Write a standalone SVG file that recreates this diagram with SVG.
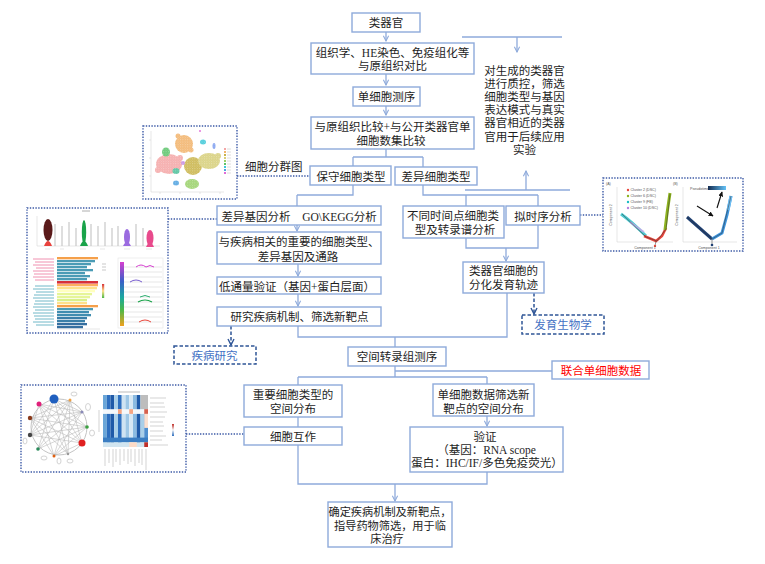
<svg xmlns="http://www.w3.org/2000/svg" width="765" height="564" viewBox="0 0 765 564">
<defs>
<marker id="ar" viewBox="0 0 8 8" refX="7" refY="4" markerWidth="7" markerHeight="7" markerUnits="userSpaceOnUse" orient="auto"><path d="M1,1 L7,4 L1,7" fill="none" stroke="#8eaadb" stroke-width="1.2"/></marker>
<marker id="ard" viewBox="0 0 8 8" refX="7" refY="4" markerWidth="8" markerHeight="8" markerUnits="userSpaceOnUse" orient="auto"><path d="M1,1 L7,4 L1,7" fill="none" stroke="#2f5597" stroke-width="1.4"/></marker>
<marker id="ark" viewBox="0 0 8 8" refX="7" refY="4" markerWidth="5" markerHeight="5" markerUnits="userSpaceOnUse" orient="auto"><path d="M0,0 L8,4 L0,8 Z" fill="#111"/></marker>
<pattern id="speck" width="2.4" height="2.4" patternUnits="userSpaceOnUse"><circle cx="0.6" cy="0.6" r="0.45" fill="#fff" opacity="0.7"/><circle cx="1.8" cy="1.7" r="0.35" fill="#fff" opacity="0.5"/></pattern>
<linearGradient id="gRidge" x1="0" y1="0" x2="0" y2="1"><stop offset="0" stop-color="#d63fd0"/><stop offset="0.3" stop-color="#3a5fc8"/><stop offset="0.55" stop-color="#1aa8a0"/><stop offset="0.75" stop-color="#4cb848"/><stop offset="1" stop-color="#f0a020"/></linearGradient>
<linearGradient id="gLeg" x1="0" y1="0" x2="0" y2="1"><stop offset="0" stop-color="#d7303a"/><stop offset="0.5" stop-color="#fee08b"/><stop offset="1" stop-color="#4cb848"/></linearGradient>
<linearGradient id="gPs" x1="0" y1="0" x2="1" y2="0"><stop offset="0" stop-color="#132b50"/><stop offset="1" stop-color="#64c2f7"/></linearGradient>
<linearGradient id="gHm" x1="0" y1="0" x2="0" y2="1"><stop offset="0" stop-color="#c0302a"/><stop offset="0.5" stop-color="#f7f7f7"/><stop offset="1" stop-color="#2e6fbf"/></linearGradient>
</defs>
<style>
.box{fill:#fff;stroke:#8eaadb;stroke-width:1.4}
.t{font-family:'Liberation Serif','Noto Sans CJK SC',sans-serif;font-size:11.5px;fill:#1e1e1e;text-anchor:middle}
.c{fill:none;stroke:#8eaadb;stroke-width:1.3}
.ca{fill:none;stroke:#8eaadb;stroke-width:1.3;marker-end:url(#ar)}
.dash{fill:none;stroke:#2f5597;stroke-width:1.5;stroke-dasharray:3.5 2}
.dot{fill:none;stroke:#3c5aa6;stroke-width:1.4;stroke-dasharray:1.4 1.4}
.tiny{font-family:'Liberation Sans',sans-serif;font-size:3.6px;fill:#555}
.gl{stroke:#cfcfcf;stroke-width:0.5;fill:none}
</style>
<rect x="0" y="0" width="765" height="564" fill="#fff"/>

<g id="connectors">
<path class="ca" d="M386,32 V41"/>
<path class="ca" d="M386,74 V85"/>
<path class="ca" d="M386,106 V115"/>
<path class="c" d="M386,149 V157 M353,157 H423 M353,157 V166 M423,157 V167"/>
<path class="c" d="M353,185 V195 H297"/>
<path class="ca" d="M297,195 V231"/>
<path class="ca" d="M298,264 V276"/>
<path class="ca" d="M298,294 V306"/>
<path class="c" d="M298,326 V337 H507 V293 M395,337 V347"/>
<path class="c" d="M395,366 V377 M298,377 H487 M298,377 V385 M487,377 V384 M395,371 H552"/>
<path class="c" d="M298,417 V427"/>
<path class="ca" d="M487,416 V426"/>
<path class="c" d="M298,445 V484 H487 V472"/>
<path class="ca" d="M395,484 V501"/>
<path class="c" d="M423,185 V195 H538 M466,195 V206 M538,195 V206"/>
<path class="c" d="M466,238 V248 H538 V225"/>
<path class="ca" d="M506,248 V261"/>
<path class="c" d="M462,37 H562"/>
<path class="ca" d="M517,37 V52"/>
<path class="c" d="M465,190 H570"/>
<path class="ca" d="M526,190 V171"/>
<path class="dash" d="M231,326 V345" marker-end="url(#ard)"/>
<path class="dash" d="M534,293 V314" marker-end="url(#ard)"/>
<path class="dot" d="M237,176 H310"/>
<path class="dot" d="M168,219 H217"/>
<path class="dot" d="M580,215 H603"/>
<path class="dot" d="M186,434 H244"/>
</g>

<g id="n-organoid"><rect class="box" x="352" y="13" width="68" height="19"/><text class="t" x="386" y="27">类器官</text></g>
<g id="n-histology"><rect class="box" x="311" y="43" width="163" height="31"/><text class="t" x="392.5" y="57">组织学、HE染色、免疫组化等</text><text class="t" x="392.5" y="70">与原组织对比</text></g>
<g id="n-scseq"><rect class="box" x="353" y="87" width="67" height="19"/><text class="t" x="386.5" y="101">单细胞测序</text></g>
<g id="n-compare"><rect class="box" x="311" y="117" width="163" height="32"/><text class="t" x="392.5" y="131">与原组织比较+与公开类器官单</text><text class="t" x="391" y="144.5">细胞数集比较</text></g>
<g id="n-qc"><text class="t" x="524.5" y="74.5">对生成的类器官</text><text class="t" x="524.5" y="87.7">进行质控，筛选</text><text class="t" x="524.5" y="100.9">细胞类型与基因</text><text class="t" x="524.5" y="114.1">表达模式与真实</text><text class="t" x="524.5" y="127.3">器官相近的类器</text><text class="t" x="524.5" y="140.5">官用于后续应用</text><text class="t" x="524.5" y="153.7">实验</text></g>
<g id="n-conserved"><rect class="box" x="310" y="166" width="81" height="19"/><text class="t" x="351" y="181">保守细胞类型</text></g>
<g id="n-diffcell"><rect class="box" x="395" y="167" width="82" height="18"/><text class="t" x="436" y="181">差异细胞类型</text></g>
<g id="n-cluster-label"><text class="t" x="245" y="171" style="text-anchor:start">细胞分群图</text></g>
<g id="n-degs"><rect class="box" x="217" y="206" width="164" height="19"/><text class="t" x="256" y="221">差异基因分析</text><text class="t" x="339.5" y="221">GO\KEGG分析</text></g>
<g id="n-disease-rel"><rect class="box" x="217" y="232" width="164" height="32"/><text class="t" x="299" y="246">与疾病相关的重要的细胞类型、</text><text class="t" x="298" y="260.5">差异基因及通路</text></g>
<g id="n-lowthru"><rect class="box" x="217" y="277" width="164" height="17"/><text class="t" x="297" y="290.5">低通量验证（基因+蛋白层面）</text></g>
<g id="n-mechanism"><rect class="box" x="217" y="307" width="164" height="19"/><text class="t" x="299.5" y="320.5">研究疾病机制、筛选新靶点</text></g>
<g id="n-disease-study"><rect x="174" y="346" width="82" height="18" class="dash" style="fill:#fff"/><text class="t" x="214.5" y="359.5" style="fill:#4472c4">疾病研究</text></g>
<g id="n-timepoints"><rect class="box" x="403" y="206" width="101" height="32"/><text class="t" x="453" y="219.5">不同时间点细胞类</text><text class="t" x="455" y="233.7">型及转录谱分析</text></g>
<g id="n-pseudotime"><rect class="box" x="506" y="206" width="74" height="19"/><text class="t" x="543" y="220.5">拟时序分析</text></g>
<g id="n-trajectory"><rect class="box" x="463" y="262" width="81" height="31"/><text class="t" x="503.5" y="274.5">类器官细胞的</text><text class="t" x="503.5" y="288.7">分化发育轨迹</text></g>
<g id="n-devbio"><rect x="522" y="315" width="82" height="19" class="dash" style="fill:#fff"/><text class="t" x="563" y="328.5" style="fill:#4472c4">发育生物学</text></g>
<g id="n-spatial"><rect class="box" x="348" y="347" width="98" height="19"/><text class="t" x="397" y="361">空间转录组测序</text></g>
<g id="n-joint"><rect class="box" x="552" y="361" width="97" height="18"/><text class="t" x="601" y="374.5" style="fill:#ff0000">联合单细胞数据</text></g>
<g id="n-spatial-dist"><rect class="box" x="244" y="385" width="98" height="32"/><text class="t" x="293" y="398.5">重要细胞类型的</text><text class="t" x="293" y="412.5">空间分布</text></g>
<g id="n-target-dist"><rect class="box" x="433" y="384" width="101" height="32"/><text class="t" x="483.5" y="398.5">单细胞数据筛选新</text><text class="t" x="483.5" y="412.5">靶点的空间分布</text></g>
<g id="n-interaction"><rect class="box" x="244" y="427" width="98" height="18"/><text class="t" x="293" y="440.5">细胞互作</text></g>
<g id="n-validate"><rect class="box" x="410" y="427" width="153" height="45"/><text class="t" x="485" y="441">验证</text><text class="t" x="486.5" y="453.7">（基因：RNA scope</text><text class="t" x="487" y="467">蛋白：IHC/IF/多色免疫荧光）</text></g>
<g id="n-final"><rect class="box" x="328" y="502" width="124" height="45"/><text class="t" x="390" y="516" style="font-size:11.2px">确定疾病机制及新靶点，</text><text class="t" x="390" y="529.5" style="font-size:11.2px">指导药物筛选，用于临</text><text class="t" x="387" y="543" style="font-size:11.2px">床治疗</text></g>

<g id="thumb-umap">
<rect x="143" y="126" width="94" height="73" class="dot" style="fill:#fff"/>
<path class="gl" d="M151,131 V192 H224 M149,140 H151 M149,158 H151 M149,176 H151 M160,192 V194 M180,192 V194 M200,192 V194 M220,192 V194"/>
<g opacity="0.9">
<ellipse cx="169" cy="164" rx="13" ry="10" fill="#f4a6a6"/>
<circle cx="158" cy="170" r="3" fill="#f4a6a6"/><circle cx="180" cy="158" r="3" fill="#f4a6a6"/>
<ellipse cx="184" cy="144" rx="9" ry="9" fill="#f2b36b"/>
<circle cx="178" cy="136" r="2.5" fill="#f2b36b"/><circle cx="191" cy="150" r="2.5" fill="#f2b36b"/>
<ellipse cx="193" cy="166" rx="9" ry="9" fill="#c9b44a"/>
<ellipse cx="209" cy="161" rx="11" ry="8" fill="#d7cf7a"/>
<circle cx="218" cy="156" r="3" fill="#d7cf7a"/>
<ellipse cx="166" cy="152" rx="4" ry="4.5" fill="#5cc46a"/>
<ellipse cx="176" cy="171" rx="3.5" ry="3" fill="#4cbf9a"/>
<circle cx="183" cy="163" r="2" fill="#c58be0"/>
<ellipse cx="176" cy="183" rx="3" ry="2.5" fill="#4fa3e0"/>
<ellipse cx="192" cy="184" rx="7" ry="5" fill="#9ad16a"/>
<ellipse cx="203" cy="142" rx="3" ry="2.5" fill="#3ec8d8"/>
<ellipse cx="214" cy="146" rx="1.5" ry="3" fill="#7a9bef"/>
<circle cx="200" cy="131" r="1" fill="#e06ad8"/>
</g>
<rect x="154" y="133" width="68" height="57" fill="url(#speck)"/>
<g><rect x="224" y="148" width="2" height="2" fill="#f4a6a6"/><rect x="224" y="151" width="2" height="2" fill="#f2b36b"/><rect x="224" y="154" width="2" height="2" fill="#c9b44a"/><rect x="224" y="157" width="2" height="2" fill="#d7cf7a"/><rect x="224" y="160" width="2" height="2" fill="#9ad16a"/><rect x="224" y="163" width="2" height="2" fill="#5cc46a"/><rect x="224" y="166" width="2" height="2" fill="#3ec8d8"/><rect x="224" y="169" width="2" height="2" fill="#4fa3e0"/><rect x="224" y="172" width="2" height="2" fill="#e06ad8"/>
<path d="M227,149 H231 M227,152 H231 M227,155 H231 M227,158 H231 M227,161 H231 M227,164 H231 M227,167 H231 M227,170 H231 M227,173 H231" stroke="#d5d5d5" stroke-width="0.8"/></g>
</g>

<g id="thumb-violin">
<rect x="27" y="208" width="141" height="125" class="dot" style="fill:#fff"/>
<path d="M82,211 H90" stroke="#999" stroke-width="0.8"/>
<path class="gl" d="M37,246 H160 M37,216 V246"/>
<path d="M55,224 V246 M62,226 V246 M69,222 V246 M76,228 V246 M91,224 V246 M98,226 V246 M105,222 V246 M112,228 V246 M118,226 V246 M136,224 V246 M143,228 V246" stroke="#c8c8c8" stroke-width="1.2"/>
<ellipse cx="48" cy="230" rx="4.5" ry="11" fill="#5a1a1a"/>
<path d="M44,246 Q48,236 52,246 Z" fill="#e8413c"/>
<ellipse cx="84" cy="232" rx="2.2" ry="12" fill="#1aa34a"/>
<path d="M80,246 Q84,236 88,246 Z" fill="#1aa34a"/>
<ellipse cx="127" cy="237" rx="3" ry="8" fill="#9b6be0"/>
<path d="M123,246 Q127,238 131,246 Z" fill="#9b6be0"/>
<ellipse cx="150" cy="238" rx="3.5" ry="8" fill="#e84a8c"/>
<path d="M146,247 Q150,238 154,247 Z" fill="#e84a8c"/>
<path class="gl" d="M45,249 H50 M60,249 H64 M80,249 H86 M100,249 H105 M124,249 H130 M146,249 H152"/>
<path d="M33,259 H54 M35,262 H54 M33,265 H54 M36,268 H54 M33,271 H54 M34,274 H54 M33,277 H54 M35,280 H54" stroke="#f090b0" stroke-width="1"/>
<path d="M35,286 H54 M33,289 H54 M36,292 H54 M34,295 H54 M33,298 H54 M35,301 H54 M34,304 H54 M33,307 H54 M35,310 H54 M33,313 H54 M34,316 H54 M35,319 H54 M33,322 H54 M36,325 H54" stroke="#70b8c8" stroke-width="1"/>
<g>
<rect x="57" y="257" width="41" height="2.3" fill="#f5a04a"/>
<rect x="57" y="260" width="38" height="2.3" fill="#4a9bb5"/>
<rect x="57" y="263" width="34" height="2.3" fill="#4a9bb5"/>
<rect x="57" y="266" width="30" height="2.3" fill="#4a9bb5"/>
<rect x="57" y="269" width="36" height="2.3" fill="#4a9bb5"/>
<rect x="57" y="272" width="28" height="2.3" fill="#4a9bb5"/>
<rect x="57" y="275" width="33" height="2.3" fill="#4a9bb5"/>
<rect x="57" y="278" width="30" height="2.3" fill="#4a9bb5"/>
<rect x="57" y="281" width="41" height="2.6" fill="#d7303a"/>
<rect x="57" y="284" width="41" height="2.3" fill="#fdae61"/>
<rect x="57" y="287" width="40" height="2.3" fill="#fee08b"/>
<rect x="57" y="290" width="38" height="2.3" fill="#ffffbf"/>
<rect x="57" y="293" width="35" height="2.3" fill="#e6f598"/>
<rect x="57" y="296" width="33" height="2.3" fill="#e6f598"/>
<rect x="57" y="299" width="30" height="2.3" fill="#d9ef8b"/>
<rect x="57" y="302" width="30" height="2.3" fill="#fee08b"/>
<rect x="57" y="305" width="41" height="2.3" fill="#f5a04a"/>
<rect x="57" y="308" width="36" height="2.3" fill="#4a9bb5"/>
<rect x="57" y="311" width="32" height="2.3" fill="#3f8db0"/>
<rect x="57" y="314" width="34" height="2.3" fill="#3f8db0"/>
<rect x="57" y="317" width="30" height="2.3" fill="#3a7fa8"/>
<rect x="57" y="320" width="28" height="2.3" fill="#3a7fa8"/>
<rect x="57" y="323" width="30" height="2.3" fill="#356fa0"/>
<rect x="57" y="326" width="26" height="2.3" fill="#356fa0"/>
</g>
<path class="gl" d="M57,329 H100"/>
<rect x="102" y="284" width="2.2" height="14" fill="url(#gLeg)"/>
<path d="M102,264 H106 M102,267 H106 M102,270 H106" stroke="#bbb" stroke-width="0.8"/>
<rect x="118" y="258" width="45" height="70" fill="none" stroke="#e3e3e3" stroke-width="0.6"/>
<rect x="120" y="262" width="4" height="64" fill="url(#gRidge)"/>
<path class="gl" d="M124,267 H162 M124,272 H162 M124,277 H162 M124,282 H162 M124,287 H162 M124,292 H162 M124,297 H162 M124,302 H162 M124,307 H162 M124,312 H162 M124,317 H162 M124,322 H162"/>
<path d="M136,267 Q141,263 146,267 Q150,264 154,267" fill="none" stroke="#d63fd0" stroke-width="1"/>
<path d="M130,282 Q136,278 142,282" fill="none" stroke="#7a5fd0" stroke-width="1"/>
<path d="M140,297 Q145,294 150,297" fill="none" stroke="#2cb070" stroke-width="1"/>
<path d="M138,302 Q145,298 152,302" fill="none" stroke="#1aa34a" stroke-width="1.2"/>
<path d="M139,322 Q145,318 151,322" fill="none" stroke="#e8463c" stroke-width="1"/>
</g>

<g id="thumb-trajectory">
<rect x="603" y="178" width="140" height="73" class="dot" style="fill:#fff"/>
<text class="tiny" x="606" y="185">(A)</text>
<text class="tiny" x="673" y="185">(B)</text>
<path class="gl" d="M617,187 V242 H673 M683,187 V242 H737"/>
<circle cx="628" cy="190" r="1.2" fill="#e8463c"/><text class="tiny" x="630.5" y="191.3">Cluster 2 (DSC)</text>
<circle cx="628" cy="196" r="1.2" fill="#8db31e"/><text class="tiny" x="630.5" y="197.3">Cluster 6 (DSC)</text>
<circle cx="628" cy="202" r="1.2" fill="#1bbcc4"/><text class="tiny" x="630.5" y="203.3">Cluster 9 (FB)</text>
<circle cx="628" cy="208" r="1.2" fill="#b77ee0"/><text class="tiny" x="630.5" y="209.3">Cluster 10 (DSC)</text>
<path d="M621,214 Q632,222 646,236" fill="none" stroke="#2cc0c8" stroke-width="3" opacity="0.85"/>
<path d="M630,222 Q638,228 644,232" fill="none" stroke="#c9a8e8" stroke-width="2" opacity="0.8"/>
<path d="M644,236 L656,241 L662,236 L666,228" fill="none" stroke="#e8463c" stroke-width="2.6"/>
<path d="M665,230 Q667,212 670,193" fill="none" stroke="#8db31e" stroke-width="3"/>
<path d="M622,214 L646,237 L657,241 L666,229 L670,194 M656,241 L655,246" fill="none" stroke="#333" stroke-width="0.5"/>
<circle cx="655" cy="246" r="1.2" fill="#e8463c"/>
<text class="tiny" x="645" y="248.5" style="text-anchor:middle">Component 1</text>
<text class="tiny" x="612" y="215" transform="rotate(-90 612 215)" style="text-anchor:middle">Component 2</text>
<text class="tiny" x="690" y="189.5">Pseudotime</text>
<rect x="708" y="186" width="18" height="4" fill="url(#gPs)"/>
<path d="M687,217 L712,239" fill="none" stroke="#1d3f73" stroke-width="3"/>
<path d="M712,239 L722,233 L727,215 L731,196" fill="none" stroke="#3d95de" stroke-width="3"/>
<path d="M728,210 L731,196" fill="none" stroke="#6ec0f5" stroke-width="3"/>
<path d="M687,217 L712,239 L722,233 L731,196 M712,239 L712,245" fill="none" stroke="#333" stroke-width="0.5"/>
<circle cx="712" cy="245" r="1.3" fill="#1d3f73"/>
<path d="M697,206 L713,216" stroke="#111" stroke-width="1.1" marker-end="url(#ark)"/>
<path d="M717,208 L722,192" stroke="#111" stroke-width="1.1" marker-end="url(#ark)"/>
<text class="tiny" x="709" y="248.5" style="text-anchor:middle">Component 1</text>
<text class="tiny" x="678" y="215" transform="rotate(-90 678 215)" style="text-anchor:middle">Component 2</text>
</g>

<g id="thumb-network">
<rect x="21" y="385" width="165" height="87" class="dot" style="fill:#fff"/>
<circle cx="59" cy="427" r="28" fill="none" stroke="#c4c4c4" stroke-width="1"/>
<path d="M54,399 L82,443 M54,399 L68,454 M54,399 L38,449 M54,399 L30,435 M54,399 L87,427 M39,404 L82,443 M39,404 L87,427 M39,404 L68,454 M30,418 L82,443 M30,418 L87,427 M30,418 L82,412 M30,435 L82,443 M30,435 L82,412 M30,435 L70,400 M38,449 L82,412 M38,449 L70,400 M38,449 L87,427 M54,456 L70,400 M54,456 L82,412 M54,456 L39,404 M68,454 L30,418 M68,454 L70,400 M82,443 L70,400 M82,443 L54,456 M87,427 L54,456 M30,418 L54,456 M39,404 L30,435 M70,400 L30,418 M82,412 L39,404 M54,399 L82,412 M87,427 L30,435" fill="none" stroke="#b8b8b8" stroke-width="0.7" opacity="0.8"/>
<g fill="none" stroke="#c8c8c8" stroke-width="0.8"><ellipse cx="74" cy="394" rx="3" ry="2"/><ellipse cx="88" cy="407" rx="2.5" ry="3.5"/><ellipse cx="92" cy="433" rx="2.5" ry="3"/><ellipse cx="70" cy="461" rx="3" ry="2"/><ellipse cx="44" cy="458" rx="3" ry="2"/><ellipse cx="25" cy="441" rx="2" ry="3"/><ellipse cx="59" cy="461" rx="2" ry="3"/></g>
<circle cx="54" cy="399" r="4.5" fill="#1f5fbf"/>
<circle cx="70" cy="400" r="1.5" fill="#f0a040"/>
<circle cx="82" cy="412" r="1.5" fill="#8a8ab8"/>
<circle cx="87" cy="427" r="1.8" fill="#3aa040"/>
<circle cx="82" cy="443" r="3.5" fill="#e02020"/>
<circle cx="68" cy="454" r="1.2" fill="#999"/>
<circle cx="54" cy="456" r="1.5" fill="#e06010"/>
<circle cx="38" cy="449" r="1.8" fill="#2a8a5a"/>
<circle cx="30" cy="435" r="2.2" fill="#444"/>
<circle cx="30" cy="418" r="2.2" fill="#8b3a1a"/>
<circle cx="39" cy="404" r="2.5" fill="#e0207a"/>
<path d="M118,392 H140" stroke="#bbb" stroke-width="1"/>
<g>
<rect x="103" y="395" width="3.75" height="52" fill="#6aa6d8"/>
<rect x="106.75" y="395" width="3.75" height="52" fill="#2e6fbf"/>
<rect x="110.5" y="395" width="3.75" height="52" fill="#1f5aa8"/>
<rect x="114.25" y="395" width="3.75" height="52" fill="#a9cfe9"/>
<rect x="118" y="395" width="3.75" height="52" fill="#2e6fbf"/>
<rect x="121.75" y="395" width="3.75" height="52" fill="#cfe3f2"/>
<rect x="125.5" y="395" width="3.75" height="52" fill="#9ec7e6"/>
<rect x="129.25" y="395" width="3.75" height="52" fill="#d7e8f4"/>
<rect x="133" y="395" width="3.75" height="52" fill="#8bbbe1"/>
<rect x="136.75" y="395" width="3.75" height="52" fill="#1f5aa8"/>
<rect x="140.5" y="395" width="3.75" height="52" fill="#a9cfe9"/>
<rect x="144.25" y="395" width="3.75" height="52" fill="#4f8fcf"/>
<rect x="140.5" y="395" width="7.5" height="14.2" fill="#bdbdbd"/>
<rect x="103" y="409.2" width="45" height="4.7" fill="#f4f8fb"/>
<rect x="118" y="409.2" width="3.75" height="4.7" fill="#f4a582"/>
<rect x="129.25" y="409.2" width="3.75" height="4.7" fill="#f4a582"/>
<rect x="144.25" y="409.2" width="3.75" height="4.7" fill="#d6604d"/>
<rect x="144.25" y="413.9" width="3.75" height="14" fill="#fbe0d0"/>
<rect x="103" y="437.6" width="45" height="4.7" fill="#3a7dc2"/>
<rect x="103" y="442.3" width="45" height="4.7" fill="#d1e5f0"/>
<rect x="129.25" y="442.3" width="7.5" height="4.7" fill="#fddbc7"/>
<rect x="144.25" y="442.3" width="3.75" height="4.7" fill="#c0302a"/>
</g>
<path d="M150,398 H166 M150,403 H164 M150,407 H165 M150,412 H167 M150,417 H165 M150,422 H163 M150,426 H164 M150,431 H163 M150,436 H166 M150,440 H162 M150,445 H168" stroke="#c8c8c8" stroke-width="0.8"/>
<path d="M105,449 V466 M109,449 V463 M113,449 V467 M116,449 V462 M120,449 V465 M124,449 V461 M128,449 V464 M131,449 V462 M135,449 V466 M139,449 V463 M142,449 V465 M146,449 V470" stroke="#c8c8c8" stroke-width="0.8"/>
<path d="M99,410 V432" stroke="#c8c8c8" stroke-width="0.8"/>
<rect x="172" y="424" width="2" height="12" fill="url(#gHm)"/>
</g>
</svg>
